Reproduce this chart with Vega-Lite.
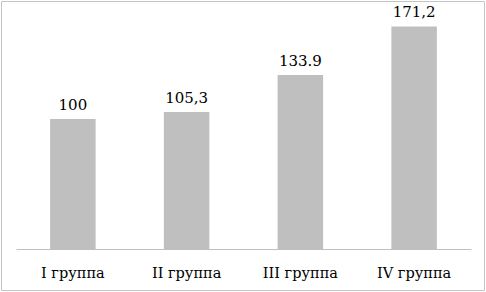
{
  "$schema": "https://vega.github.io/schema/vega-lite/v6.json",
  "autosize": {"type": "none"},
  "padding": {"left": 1, "top": 1, "right": 2, "bottom": 2},
  "width": 483,
  "height": 289,
  "background": "white",
  "config": {
    "view": {"stroke": "#c4c4c4", "strokeWidth": 1},
    "font": "DejaVu Serif"
  },
  "data": {
    "values": [
      {"group": "I группа", "value": 100, "label": "100"},
      {"group": "II группа", "value": 105.3, "label": "105,3"},
      {"group": "III группа", "value": 133.9, "label": "133.9"},
      {"group": "IV группа", "value": 171.2, "label": "171,2"}
    ]
  },
  "encoding": {
    "x": {
      "field": "group",
      "type": "nominal",
      "sort": null,
      "scale": {"range": [15, 470], "paddingInner": 0, "paddingOuter": 0},
      "axis": {
        "title": null,
        "offset": -41,
        "domainColor": "#c0c0c0",
        "ticks": false,
        "labelAngle": 0,
        "labelFont": "DejaVu Serif",
        "labelFontSize": 14.5,
        "labelColor": "#000000",
        "labelBaseline": "alphabetic",
        "labelPadding": 28
      }
    },
    "y": {
      "field": "value",
      "type": "quantitative",
      "scale": {"domain": [0, 180], "range": [248, 14], "nice": false},
      "axis": null
    }
  },
  "layer": [
    {"mark": {"type": "bar", "color": "#bfbfbf", "width": {"band": 0.4}}},
    {
      "mark": {"type": "text", "baseline": "alphabetic", "dy": -9, "fontSize": 15, "font": "DejaVu Serif", "color": "#000000"},
      "encoding": {"text": {"field": "label"}}
    }
  ]
}
